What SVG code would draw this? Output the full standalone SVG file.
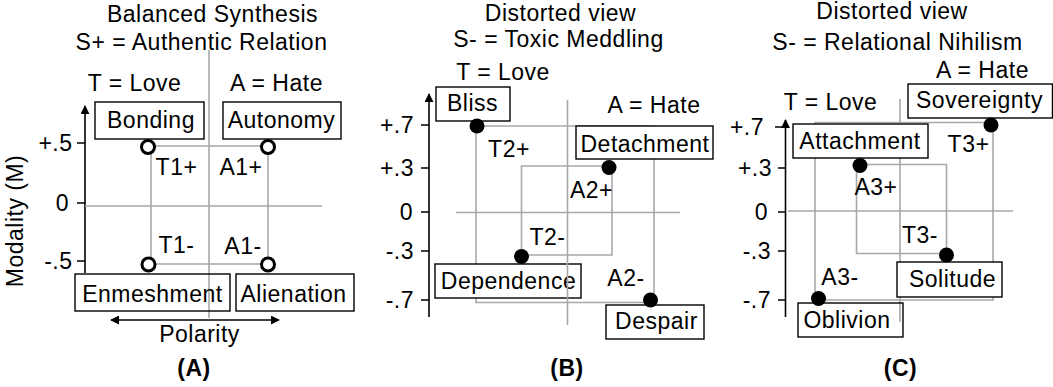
<svg xmlns="http://www.w3.org/2000/svg" width="1053" height="387" viewBox="0 0 1053 387">
<style>
text{font-family:"Liberation Sans",Arial,sans-serif;font-size:23px;letter-spacing:0.5px;fill:#000}
.m{text-anchor:middle}
.e{text-anchor:end}
.b{font-weight:bold}
.grid{stroke:#a8a8a8;stroke-width:1.6;fill:none}
.loop{stroke:#a8a8a8;stroke-width:1.6;fill:none}
.axis{stroke:#000;stroke-width:1.6;fill:none}
.box{fill:#fff;stroke:#000;stroke-width:1.4}
.open{fill:none}
.oc{fill:#fff;stroke:#000;stroke-width:3}
.fc{fill:#000}
</style>
<defs>
<marker id="ah" viewBox="0 0 10 10" refX="9" refY="5" markerWidth="9" markerHeight="9" markerUnits="userSpaceOnUse" orient="auto-start-reverse">
<path d="M0,0 L10,5 L0,10 Z" fill="#000"/>
</marker>
</defs>
<rect width="1053" height="387" fill="#fff"/>

<!-- Panel A -->
<g id="panelA">
<text class="m" x="212.5" y="22">Balanced Synthesis</text>
<text class="m" x="201.5" y="50">S+ = Authentic Relation</text>
<text class="m" x="134.5" y="91">T = Love</text>
<text class="m" x="276.5" y="91">A = Hate</text>
<text class="m" transform="translate(23,221) rotate(-90)">Modality (M)</text>
<line class="axis" x1="85" y1="273" x2="85" y2="106" marker-end="url(#ah)"/>
<path class="axis" d="M77,143H85M77,203H85M77,261H85"/>
<text class="e" x="72.5" y="151">+.5</text>
<text class="e" x="69" y="211">0</text>
<text class="e" x="72.5" y="269">-.5</text>
<line class="grid" x1="85" y1="206" x2="322" y2="206"/>
<line class="grid" x1="209" y1="50" x2="209" y2="318"/>
<line class="axis" x1="111" y1="320" x2="279" y2="320" marker-start="url(#ah)" marker-end="url(#ah)"/>
<text class="m" x="199.5" y="342">Polarity</text>
<text class="m b" x="194" y="376">(A)</text>
</g>

<!-- Panel B -->
<g id="panelB">
<text class="m" x="560.5" y="21">Distorted view</text>
<text class="m" x="558.5" y="47">S- = Toxic Meddling</text>
<text class="m" x="503" y="79.5">T = Love</text>
<text class="m" x="654" y="113">A = Hate</text>
<line class="axis" x1="429" y1="317" x2="429" y2="94" marker-end="url(#ah)"/>
<path class="axis" d="M421,125H429M421,168H429M421,212H429M421,251H429M421,300H429"/>
<text class="e" x="414" y="133">+.7</text>
<text class="e" x="414" y="176">+.3</text>
<text class="e" x="413" y="220">0</text>
<text class="e" x="414" y="259">-.3</text>
<text class="e" x="414" y="308">-.7</text>
<line class="grid" x1="456" y1="212.5" x2="680" y2="212.5"/>
<text class="m b" x="567" y="376">(B)</text>
</g>

<!-- Panel C -->
<g id="panelC">
<text class="m" x="892" y="19">Distorted view</text>
<text class="m" x="897.5" y="49.5">S- = Relational Nihilism</text>
<text class="m" x="982.5" y="77.5">A = Hate</text>
<text class="m" x="830.5" y="109.5">T = Love</text>
<line class="axis" x1="785.5" y1="317" x2="785.5" y2="120" marker-end="url(#ah)"/>
<path class="axis" d="M775,127H785.5M778,168H785.5M778,212H785.5M778,251H785.5M778,300H785.5"/>
<text class="e" x="764" y="135">+.7</text>
<text class="e" x="772" y="176">+.3</text>
<text class="e" x="768" y="220">0</text>
<text class="e" x="771" y="259">-.3</text>
<text class="e" x="771" y="308">-.7</text>
<line class="grid" x1="788" y1="211" x2="1013" y2="211"/>
<line class="grid" x1="900" y1="99" x2="900" y2="322"/>
<text class="m b" x="900.5" y="376">(C)</text>
</g>

<!-- Connectors (loops between states) -->
<g id="connectors">
<path class="loop" d="M151,146H268V264H151Z"/>
<path class="loop" d="M476,126H654V302.5H476Z"/>
<path class="loop" d="M521.5,166H612V255H521.5Z"/>
<path class="loop" d="M815,122.5H993V300H815Z"/>
<path class="loop" d="M856.5,164.5H946.5V253.5H856.5Z"/>
</g>

<!-- Nodes -->
<g id="node-bonding"><rect class="box" x="95" y="102" width="109" height="37"/><text class="m" x="151" y="128">Bonding</text></g>
<g id="node-autonomy"><rect class="box" x="223" y="102" width="118" height="37"/><text class="m" x="281.5" y="128">Autonomy</text></g>
<g id="node-enmeshment"><rect class="box open" x="75" y="274" width="155" height="37"/><text class="m" x="152.5" y="301.5">Enmeshment</text></g>
<g id="node-alienation"><rect class="box" x="236" y="274" width="118" height="37"/><text class="m" x="293.5" y="301.5">Alienation</text></g>
<g id="node-T1p"><circle class="oc" cx="148" cy="147" r="6.5"/><text class="m" x="176.5" y="175">T1+</text></g>
<g id="node-A1p"><circle class="oc" cx="268" cy="147" r="6.5"/><text class="m" x="241" y="175">A1+</text></g>
<g id="node-T1m"><circle class="oc" cx="148.5" cy="264.5" r="6.5"/><text class="m" x="176.5" y="252.5">T1-</text></g>
<g id="node-A1m"><circle class="oc" cx="268" cy="264.5" r="6.5"/><text class="m" x="243" y="254">A1-</text></g>

<g id="node-bliss"><rect class="box" x="436" y="87" width="74" height="34"/><text class="m" x="472.5" y="111">Bliss</text></g>
<g id="node-detachment"><rect class="box" x="576" y="126" width="137" height="33"/><text class="m" x="645" y="151.5">Detachment</text></g>
<g id="node-dependence"><rect class="box" x="435" y="264" width="146" height="34"/><text class="m" x="508.5" y="289">Dependence</text></g>
<g id="node-despair"><rect class="box" x="606" y="305" width="98" height="34"/><text class="m" x="656.5" y="329">Despair</text></g>
<g id="node-T2p"><circle class="fc" cx="477" cy="126" r="7.5"/><text class="m" x="509" y="157">T2+</text></g>
<g id="node-A2p"><circle class="fc" cx="609" cy="167.5" r="7.5"/><text class="m" x="591.5" y="197.5">A2+</text></g>
<g id="node-T2m"><circle class="fc" cx="521.5" cy="256.5" r="7.5"/><text class="m" x="547.5" y="245">T2-</text></g>
<g id="node-A2m"><circle class="fc" cx="650.5" cy="300" r="7.5"/><text class="m" x="626" y="285.5">A2-</text></g>

<g id="node-sovereignty"><rect class="box" x="908" y="84" width="144.5" height="34"/><text class="m" x="979.5" y="108">Sovereignty</text></g>
<g id="node-attachment"><rect class="box" x="793" y="124" width="135" height="34"/><text class="m" x="860" y="148.5">Attachment</text></g>
<g id="node-solitude"><rect class="box" x="897" y="262" width="105" height="35"/><text class="m" x="952.5" y="287">Solitude</text></g>
<g id="node-oblivion"><rect class="box open" x="798" y="303" width="105" height="34"/><text class="m" x="847" y="328">Oblivion</text></g>
<g id="node-T3p"><circle class="fc" cx="991" cy="125" r="7.5"/><text class="m" x="968.5" y="152">T3+</text></g>
<g id="node-A3p"><circle class="fc" cx="860" cy="165.5" r="7.5"/><text class="m" x="876" y="195">A3+</text></g>
<g id="node-T3m"><circle class="fc" cx="946.5" cy="255" r="7.5"/><text class="m" x="920" y="243">T3-</text></g>
<g id="node-A3m"><circle class="fc" cx="818.5" cy="298.5" r="7.5"/><text class="m" x="840" y="284.5">A3-</text></g>

<!-- Panel B centre line passes over the Dependence box -->
<line class="grid" x1="567.5" y1="100" x2="567.5" y2="325"/>
</svg>
